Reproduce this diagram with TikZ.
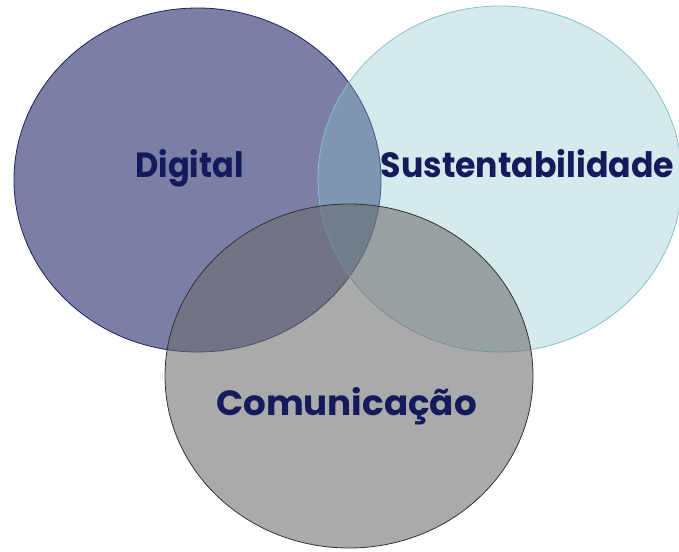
\documentclass[tikz,border=0pt]{standalone}
\usepackage{fontspec}
\setmainfont{Poppins}
\definecolor{dfill}{RGB}{123,127,166}
\definecolor{dline}{RGB}{26,34,96}
\definecolor{sfill}{RGB}{134,195,203}
\definecolor{sline}{RGB}{130,192,206}
\definecolor{cfill}{RGB}{108,108,108}
\definecolor{cline}{RGB}{50,50,50}
\definecolor{txt}{RGB}{20,26,92}
\tikzset{
  lbl/.style={text=txt, font=\fontsize{35}{40}\selectfont\bfseries, anchor=base, inner sep=0pt},
  setd/.style={fill=dfill, draw=dline, line width=0.8pt},
  sets/.style={fill=sfill, fill opacity=0.35, draw=sline, draw opacity=1, line width=0.8pt},
  setc/.style={fill=cfill, fill opacity=0.58, draw=cline, draw opacity=1, line width=0.8pt}
}
\begin{document}
\begin{tikzpicture}[x=1pt,y=-1pt]
\useasboundingbox (0,0) rectangle (679,551);
\draw[setd] (197.5,180) ellipse [x radius=183.5, y radius=172];
\draw[sets] (500,179) ellipse [x radius=182, y radius=173];
\draw[setc] (349,376) ellipse [x radius=184, y radius=172];
\node[lbl] (dig) at (189.5,177) {\scalebox{0.915}[1]{Digital}};
\node[lbl] (sus) at (527.5,177) {\scalebox{0.948}[1]{Sustentabilidade}};
\node[lbl] (com) at (346.5,415) {\scalebox{1.02}[1]{Comunicação}};
\end{tikzpicture}
\end{document}
